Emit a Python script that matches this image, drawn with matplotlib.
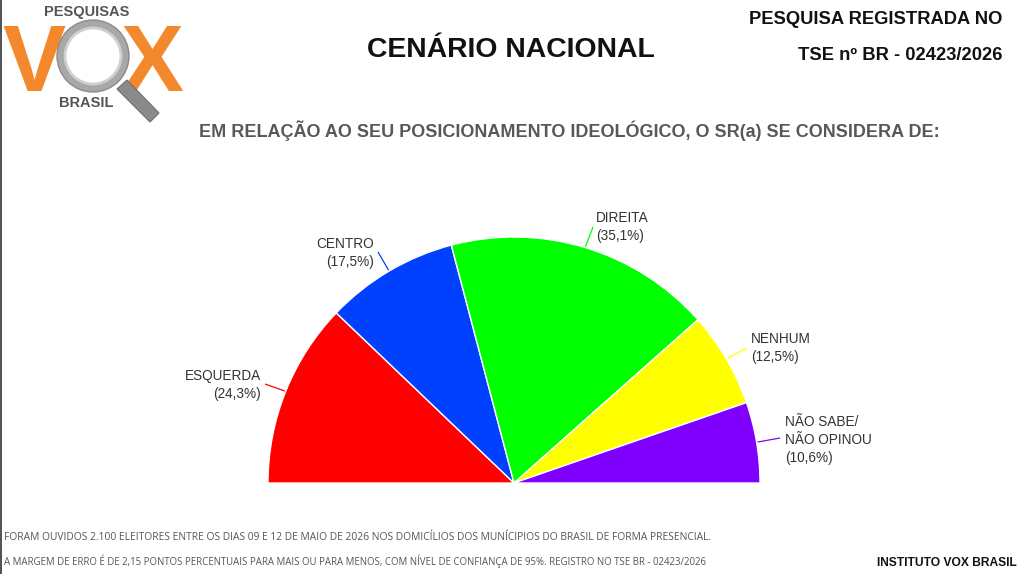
import matplotlib
matplotlib.use("Agg")
import matplotlib.pyplot as plt
import numpy as np
from matplotlib.patches import Circle, Polygon
from matplotlib.lines import Line2D

# ---------------- data ----------------
categories = ["ESQUERDA", "CENTRO", "DIREITA", "NENHUM", "NÃO SABE/\nNÃO OPINOU"]
values = [24.3, 17.5, 35.1, 12.5, 10.6]
colors = ["#FF0000", "#0040FF", "#00FF00", "#FFFF00", "#8000FF"]
value_labels = ["(24,3%)", "(17,5%)", "(35,1%)", "(12,5%)", "(10,6%)"]

title = "CENÁRIO NACIONAL"
subtitle = "EM RELAÇÃO AO SEU POSICIONAMENTO IDEOLÓGICO, O SR(a) SE CONSIDERA DE:"
reg_lines = ["PESQUISA REGISTRADA NO", "TSE nº BR - 02423/2026"]
footer1 = ("FORAM OUVIDOS 2.100 ELEITORES ENTRE OS DIAS 09 E 12 DE MAIO DE 2026 NOS "
           "DOMICÍLIOS DOS MUNÍCIPIOS DO BRASIL DE FORMA PRESENCIAL.")
footer2 = ("A MARGEM DE ERRO É DE 2,15 PONTOS PERCENTUAIS PARA MAIS OU PARA MENOS, COM "
           "NÍVEL DE CONFIANÇA DE 95%. REGISTRO NO TSE BR - 02423/2026")
institute = "INSTITUTO VOX BRASIL"

# ---------------- figure ----------------
W, H = 1027, 574
fig = plt.figure(figsize=(W / 100, H / 100), dpi=100)
fig.patch.set_facecolor("white")
ax = fig.add_axes([0, 0, 1, 1])

def Y(y):  # pixel row (from top) -> data y
    return H - y

SANS = ["Liberation Sans", "DejaVu Sans"]

# semicircle pie: hidden lower half
cx, cy, R = 514, Y(483), 246
wedges, _ = ax.pie(values + [sum(values)], colors=colors + ["none"],
                   startangle=180, counterclock=False, center=(cx, cy), radius=R,
                   wedgeprops=dict(edgecolor="white", linewidth=1.0))
wedges[-1].set_edgecolor("none")

ax.set_xlim(0, W)
ax.set_ylim(0, H)
ax.set_aspect("equal")
ax.axis("off")

# labels and leader lines
label_anchor = [(261, 385, "right"), (374, 253, "right"), (596, 227, "left"),
                (751, 348, "left"), (785, 440, "left")]
leader_end = [(265, 384), (378, 252), (593, 227), (747, 348), (780, 438)]
cum = np.cumsum([0] + values)
for i, v in enumerate(values):
    mid = 180 - (cum[i] + v / 2) / sum(values) * 180
    a = np.deg2rad(mid)
    sx, sy = cx + (R + 1) * np.cos(a), cy + (R + 1) * np.sin(a)
    ex, ey = leader_end[i]
    ax.plot([sx, ex], [sy, Y(ey)], color=colors[i], lw=0.9, solid_capstyle="butt")
    tx, ty, ha = label_anchor[i]
    ax.text(tx, Y(ty), categories[i] + "\n" + value_labels[i], ha=ha, va="center",
            multialignment=ha, fontsize=9.8, color="#333333", family=SANS,
            linespacing=1.32)

# titles
ax.text(511, Y(50), title, ha="center", va="center", fontsize=20.4,
        fontweight="bold", color="#111111", family=SANS)
ax.text(1002, Y(20), reg_lines[0], ha="right", va="center", fontsize=13.2,
        fontweight="bold", color="#111111", family=SANS)
ax.text(1002, Y(55), reg_lines[1], ha="right", va="center", fontsize=13.2,
        fontweight="bold", color="#111111", family=SANS)

fig.canvas.draw()
renderer = fig.canvas.get_renderer()

def fit(x0, x1, y, s, base, **kw):
    t = ax.text(x0, Y(y), s, ha="left", va="center", fontsize=base, **kw)
    w = t.get_window_extent(renderer).width
    t.set_fontsize(base * (x1 - x0) / w)
    return t

fit(199, 936, 131, subtitle, 12, fontweight="bold", color="#55595e", family=SANS)
fit(4, 714, 538, footer1, 7, color="#555555", family=["Open Sans", "DejaVu Sans"])
fit(4, 710, 561, footer2, 7, color="#555555", family=["Open Sans", "DejaVu Sans"])
fit(877, 1017, 563, institute, 9, fontweight="bold", color="#111111", family=SANS)

# ---------------- logo ----------------
orange = "#F4882C"
ax.text(34, Y(91), "V", ha="center", va="baseline", fontsize=68, fontweight="bold",
        color=orange, family=SANS)
ax.text(152, Y(91), "X", ha="center", va="baseline", fontsize=68, fontweight="bold",
        color=orange, family=SANS)
# magnifying glass
handle = Polygon([(117, Y(89)), (127, Y(80)), (159, Y(113)), (150, Y(122))],
                 closed=True, facecolor="#8a8a8a", edgecolor="#6f6f6f", lw=0.8, zorder=4)
ax.add_patch(handle)
ax.add_patch(Circle((93, Y(56)), 36, facecolor="#a8a8a8", edgecolor="#8c8c8c", lw=1, zorder=5))
ax.add_patch(Circle((93, Y(56)), 28, facecolor="white", edgecolor="#d0d0d0", lw=2, zorder=6))
ax.text(87, Y(12), "PESQUISAS", ha="center", va="center", fontsize=10.5,
        fontweight="bold", color="#555555", family=SANS, zorder=7)
ax.text(86, Y(103), "BRASIL", ha="center", va="center", fontsize=10.5,
        fontweight="bold", color="#555555", family=SANS, zorder=7)

# left border line
ax.add_line(Line2D([1, 1], [0, H], color="#333333", lw=1.2))

fig.savefig("out.png", dpi=100, facecolor="white")
